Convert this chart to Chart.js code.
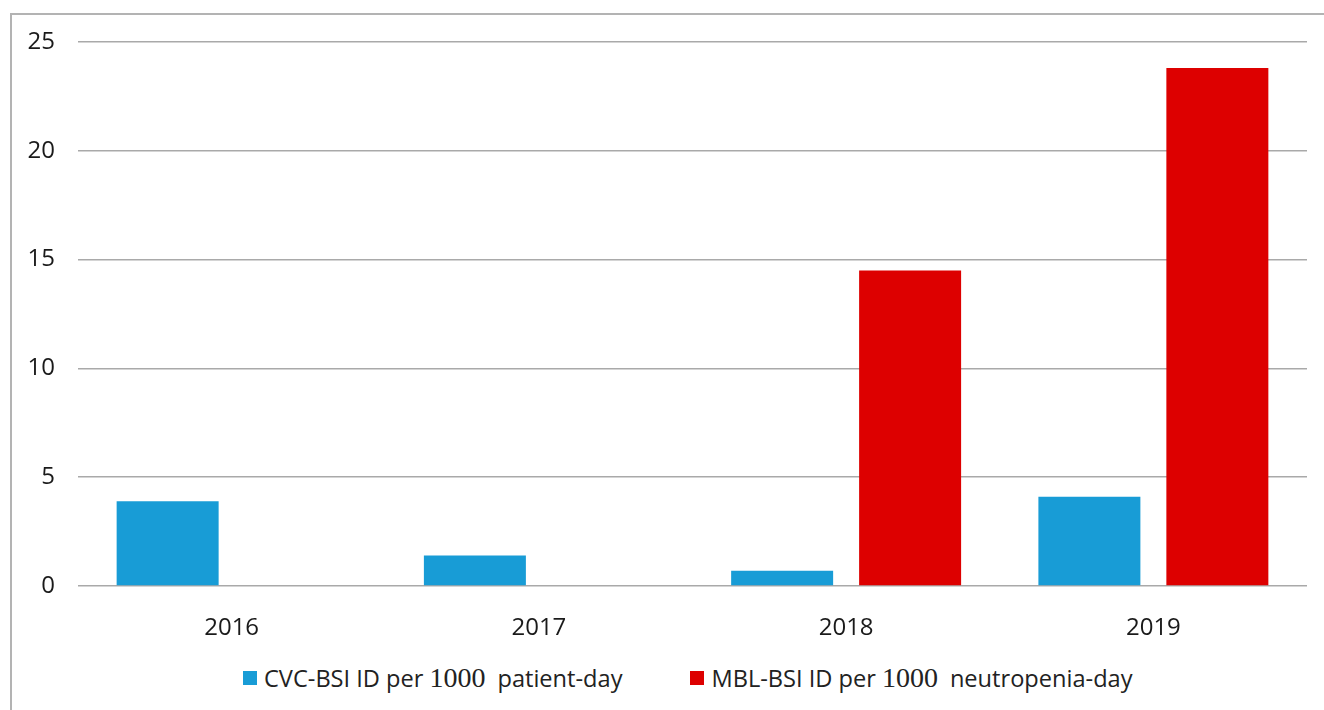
<!DOCTYPE html>
<html>
<head>
<meta charset="utf-8">
<script src="https://cdn.jsdelivr.net/npm/chart.js@4"></script>
<style>
  body { margin: 0; background: #fff; overflow: hidden; }
  #frame { position: absolute; left: 10px; top: 13px; width: 1400px; height: 800px;
           border-left: 2px solid #b3b3b3; border-top: 2px solid #b3b3b3; }
  #wrap { position: absolute; left: 0; top: 0; width: 1324px; height: 640px; }
  #legend { position: absolute; left: 243px; top: 662px; display: flex; align-items: center;
            font-family: "Open Sans", sans-serif; font-size: 23.6px; color: #222; white-space: nowrap; }
  .item { display: flex; align-items: center; margin-right: 68px; }
  .box { width: 14px; height: 14px; margin-right: 7px; }
  .num { font-family: "Liberation Serif", serif; font-size: 28px; margin: 0 12px 0 6px; }
</style>
</head>
<body>
<div id="frame"></div>
<div id="wrap"><canvas id="chart"></canvas></div>
<div id="legend"></div>
<script>
// categories and series values
const years = ["2016", "2017", "2018", "2019"]
const cvc_values = [3.9, 1.4, 0.7, 4.1]
const mbl_values = [0, 0, 14.5, 23.8]

// legend text split around the number
const cvc_label = ["CVC-BSI ID per", "1000", "patient-day"]
const mbl_label = ["MBL-BSI ID per", "1000", "neutropenia-day"]

const blue = "#189cd6"
const red = "#dd0000"

new Chart(document.getElementById("chart"), {
  type: 'bar',
  data: {
    labels: years,
    datasets: [{
        data: cvc_values,
        label: cvc_label.join(" "),
        backgroundColor: blue
      }, {
        data: mbl_values,
        label: mbl_label.join(" "),
        backgroundColor: red
      }
    ]
  },
  options: {
    responsive: true,
    maintainAspectRatio: false,
    animation: false,
    categoryPercentage: 0.833,
    barPercentage: 0.797,
    layout: { padding: { top: 42, right: 17, bottom: 4, left: 0 } },
    plugins: { legend: { display: false }, tooltip: { enabled: false } },
    scales: {
      x: {
        grid: { display: false },
        border: { display: false },
        ticks: { color: "#1a1a1a", padding: 20, font: { family: "Open Sans", size: 24 } },
        afterFit: function(scale) { scale.height = 50 }
      },
      y: {
        min: 0,
        max: 25,
        ticks: { stepSize: 5, color: "#1a1a1a", padding: 23, font: { family: "Open Sans", size: 24 } },
        grid: { color: "#a9a9a9", lineWidth: 1.6, drawTicks: false },
        border: { display: false },
        afterFit: function(scale) { scale.width = 78 }
      }
    }
  }
});

// html legend so the number can use its own font
const legend = document.getElementById("legend")
const items = [[cvc_label, blue], [mbl_label, red]]
for (let i = 0; i < items.length; i++) {
  const parts = items[i][0]
  const item = document.createElement("div")
  item.className = "item"
  item.innerHTML = '<span class="box" style="background:' + items[i][1] + '"></span>' +
    '<span>' + parts[0] + '</span><span class="num">' + parts[1] + '</span><span>' + parts[2] + '</span>'
  legend.appendChild(item)
}
</script>
</body>
</html>
